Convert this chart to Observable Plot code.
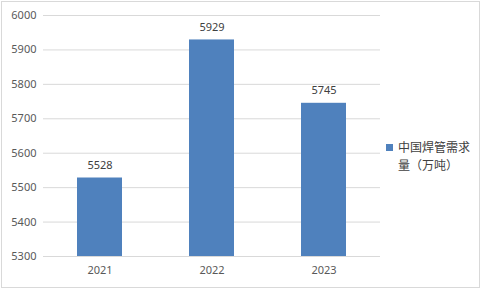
<!DOCTYPE html>
<html>
<head>
<meta charset="utf-8">
<script src="https://cdn.jsdelivr.net/npm/d3@7"></script>
<script src="https://cdn.jsdelivr.net/npm/@observablehq/plot@0.6"></script>
<style>
  html, body { margin: 0; padding: 0; background: #fff; }
  #wrap { position: relative; width: 482px; height: 290px; overflow: hidden; font-family: "Noto Sans", "Noto Sans CJK SC", sans-serif; }
  #frame { position: absolute; left: 1px; top: 1px; width: 477px; height: 285px; border: 1px solid #d9d9d9; pointer-events: none; }
  #legend { position: absolute; left: 386px; top: 138px; display: flex; align-items: flex-start; font-family: "Noto Sans CJK SC", sans-serif; font-size: 12px; line-height: 18px; color: #404040; }
  #legend .sw { width: 7px; height: 7px; background: #4f81bd; margin-top: 6px; margin-right: 5px; flex: none; }
  #chart svg { position: absolute; left: 0; top: 0; }
</style>
</head>
<body>
<div id="wrap">
  <div id="chart"></div>
  <div id="frame"></div>
  <div id="legend"><div class="sw"></div><div>中国焊管需求<br>量（万吨）</div></div>
</div>
<script>
const years = ["2021", "2022", "2023"];
const values = [5528, 5929, 5745];
const yTicks = [5300, 5400, 5500, 5600, 5700, 5800, 5900, 6000];
const seriesName = "中国焊管需求量（万吨）";

const data = years.map((y, i) => ({year: y, value: values[i]}));
const base = 5300;

const chart = Plot.plot({
  width: 482,
  height: 290,
  marginLeft: 43,
  marginRight: 102,
  marginTop: 15,
  marginBottom: 34,
  style: {fontFamily: "'Noto Sans', sans-serif", fontSize: "11px", color: "#595959", background: "transparent"},
  x: {domain: years, paddingInner: 0.6, paddingOuter: 0.3, label: null, tickSize: 0, tickPadding: 10},
  y: {domain: [5300, 6000], ticks: yTicks, label: null, tickSize: 0, tickPadding: 7, tickFormat: "d"},
  marks: [
    Plot.gridY(yTicks, {stroke: "#d9d9d9", strokeOpacity: 1}),
    Plot.rectY(data, {x: "year", y1: base, y2: "value", fill: "#4f81bd"}),
    Plot.text(data, {x: "year", y: "value", text: d => String(d.value), lineAnchor: "bottom", dy: -9, fill: "#404040", fontSize: 11}),
    Plot.axisX({tickSize: 0, tickPadding: 10, fill: "#595959"}),
    Plot.axisY(yTicks, {tickSize: 0, tickPadding: 7, fill: "#595959", tickFormat: "d"})
  ]
});
document.getElementById("chart").appendChild(chart);
</script>
</body>
</html>
